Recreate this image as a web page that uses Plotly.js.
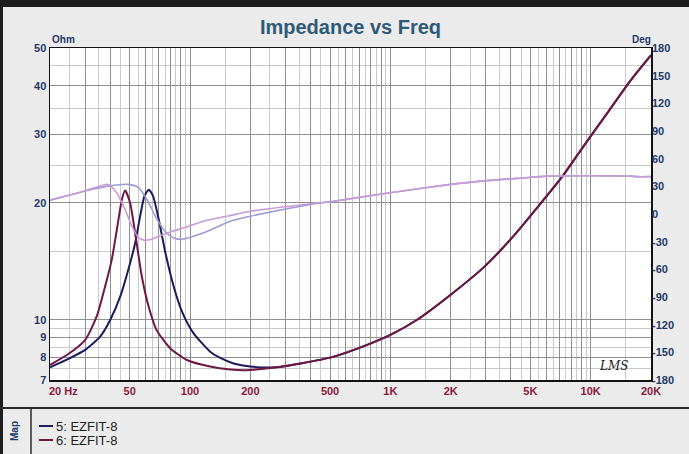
<!DOCTYPE html>
<html>
<head>
<meta charset="utf-8">
<script src="https://cdn.plot.ly/plotly-3.0.1.min.js"></script>
<style>
html,body{margin:0;padding:0;background:#ebebeb;overflow:hidden;}
#chart{width:689px;height:454px;}
</style>
</head>
<body>
<div id="chart"></div>
<script>
// ---- Data ----
const imp5Freq = [20, 25, 30, 35.6, 40, 44.9, 49.3, 53.3, 56.4, 59.2, 62.2, 65.4, 69.8, 75.3, 82.8, 91.2, 104, 126, 140, 165, 200, 270, 356, 522, 766, 1000, 1360, 2000, 2950, 4200, 5400, 7240, 9280, 12100, 15800, 20000];
const imp5 = [7.55, 7.96, 8.37, 9.05, 10.0, 11.5, 13.5, 15.8, 18.5, 20.8, 21.6, 20.8, 18.1, 14.9, 12.2, 10.5, 9.24, 8.28, 8.0, 7.72, 7.58, 7.55, 7.72, 8.04, 8.62, 9.14, 10.0, 11.6, 13.7, 16.6, 19.4, 23.4, 28.1, 34.0, 41.2, 47.9];

const imp6Freq = [20, 25, 30, 34.2, 37.7, 40.7, 43.4, 45.7, 47.4, 50.2, 53.8, 57.5, 62.2, 68, 79.6, 96.5, 126, 159, 190, 270, 356, 522, 766, 1000, 1360, 2000, 2950, 4200, 5400, 7240, 9280, 12100, 15800, 20000];
const imp6 = [7.65, 8.2, 8.88, 10.2, 12.2, 14.3, 17.4, 20.4, 21.5, 20.0, 16.1, 12.9, 10.8, 9.42, 8.45, 7.88, 7.58, 7.45, 7.42, 7.55, 7.72, 8.04, 8.62, 9.14, 10.0, 11.6, 13.7, 16.6, 19.4, 23.4, 28.1, 34.0, 41.2, 47.9];

const phase5Freq = [20, 27.7, 33.5, 39, 49.3, 55.4, 62.2, 67.1, 73.8, 81.5, 91, 115, 159, 200, 400, 522, 1000, 2000, 2830, 4300, 6070, 10000, 15800, 17000, 20000];
const phase5 = [15, 23.1, 27.4, 30.2, 32.1, 28.5, 12.2, -2.4, -16.9, -25.2, -27.5, -21, -7.8, -2.4, 10.3, 13.9, 23.1, 32.1, 35.7, 38.6, 41.1, 41.5, 41.1, 40.5, 40.5];

const phase6Freq = [20, 27.7, 33.5, 39, 43, 47.4, 51.3, 55.4, 59, 65, 73.6, 81.5, 93, 117, 159, 200, 400, 522, 1000, 2000, 2830, 4300, 6070, 10000, 15800, 17000, 20000];
const phase6 = [15, 23.1, 28.5, 32.1, 23.1, 4.9, -13.3, -25.9, -28.3, -27, -22.3, -18.7, -15, -7.8, -1.6, 3.0, 11.1, 13.9, 23.1, 32.1, 35.7, 38.6, 41.1, 41.5, 41.1, 40.5, 40.5];

const seriesNames = ['5: EZFIT-8', '6: EZFIT-8'];
const xTickVals = [20, 50, 100, 200, 500, 1000, 2000, 5000, 10000, 20000];
const xTickText = ['', '50', '100', '200', '500', '1K', '2K', '5K', '10K', '20K'];
const yTickVals = [7, 8, 9, 10, 20, 30, 40, 50];
const y2TickVals = [-180, -150, -120, -90, -60, -30, 0, 30, 60, 90, 120, 150, 180];

// ---- Styling ----
const W = 689, H = 454;
const M = {l: 50, r: 38, t: 48, b: 74};
const PW = W - M.l - M.r, PH = H - M.t - M.b;
const px = x => (x - M.l) / PW;
const py = y => (H - M.b - y) / PH;

const cNavy = '#1c1c5c', cMaroon = '#6e1846';
const cPh5 = '#9c9cd6', cPh6 = '#c79bd6';
const labelNavy = '#1f3a68', labelRed = '#8a1a3c';

const xMajor = [], xMinor = [];
[10, 100, 1000, 10000].forEach(d => {
  for (let k = 1; k <= 9; k++) {
    const v = k * d; if (v >= 20 && v <= 20000) xMajor.push(v);
    const h = (k + 0.5) * d; if (h > 20 && h < 20000) xMinor.push(h);
  }
});
xMajor.push(20000);
const xMajorText = xMajor.map(v => { const i = xTickVals.indexOf(v); return i >= 0 ? xTickText[i] : ''; });
const yMajor = [7, 8, 9, 10, 20, 30, 40, 50];
const yMinor = [7.5, 8.5, 9.5, 15, 25, 35, 45];

const sm = 0.6;
const traces = [
  {x: phase5Freq, y: phase5, yaxis: 'y2', mode: 'lines', line: {color: cPh5, width: 1.6, shape: 'spline', smoothing: sm}, showlegend: false, hoverinfo: 'skip'},
  {x: phase6Freq, y: phase6, yaxis: 'y2', mode: 'lines', line: {color: cPh6, width: 1.6, shape: 'spline', smoothing: sm}, showlegend: false, hoverinfo: 'skip'},
  {x: imp5Freq, y: imp5, name: seriesNames[0], mode: 'lines', line: {color: cNavy, width: 2, shape: 'spline', smoothing: sm}, showlegend: false},
  {x: imp6Freq, y: imp6, name: seriesNames[1], mode: 'lines', line: {color: cMaroon, width: 2, shape: 'spline', smoothing: sm}, showlegend: false}
];

const tickFont = {family: 'Arial, "Liberation Sans", sans-serif', size: 11, color: labelNavy, weight: 'bold'};
const legFont = {family: '"Liberation Sans Narrow", "Arial Narrow", Arial, sans-serif', size: 13, color: '#222'};

const layout = {
  width: W, height: H,
  margin: M,
  paper_bgcolor: '#ebebeb',
  plot_bgcolor: '#ffffff',
  showlegend: false,
  title: {text: '<b>Impedance vs Freq</b>', font: {family: 'Arial, "Liberation Sans", sans-serif', size: 20, color: '#2e5a78'}, x: 0.5, xref: 'paper', xanchor: 'center', y: 1 - 27 / H, yref: 'container', yanchor: 'middle'},
  xaxis: {
    type: 'log', range: [Math.log10(20), Math.log10(20000)],
    tickmode: 'array', tickvals: xMajor, ticktext: xMajorText,
    ticks: '', showgrid: true, gridcolor: '#8f8f8f', gridwidth: 1,
    minor: {tickmode: 'array', tickvals: xMinor, showgrid: true, gridcolor: '#c9c9c9', gridwidth: 1, ticks: ''},
    showline: true, linecolor: '#111', linewidth: 1.5, mirror: true,
    tickfont: Object.assign({}, tickFont, {color: labelRed}),
    zeroline: false, fixedrange: true
  },
  yaxis: {
    type: 'log', range: [Math.log10(7), Math.log10(50)],
    tickmode: 'array', tickvals: [...yMajor], ticktext: yMajor.map(v => yTickVals.includes(v) ? String(v) : ''),
    ticks: '', showgrid: true, gridcolor: '#8f8f8f', gridwidth: 1,
    minor: {tickmode: 'array', tickvals: yMinor, showgrid: true, gridcolor: '#c9c9c9', gridwidth: 1, ticks: ''},
    showline: true, linecolor: '#111', linewidth: 1.5, mirror: true,
    tickfont: tickFont, zeroline: false, fixedrange: true
  },
  yaxis2: {
    overlaying: 'y', side: 'right', range: [-180, 180],
    tickmode: 'array', tickvals: y2TickVals, ticktext: y2TickVals.map(String),
    ticks: '', showgrid: false, zeroline: false, showline: false,
    tickfont: tickFont, fixedrange: true
  },
  shapes: [
    {type: 'rect', xref: 'paper', yref: 'paper', x0: px(0), x1: px(W), y0: py(0), y1: py(7), fillcolor: '#1d1d1d', line: {width: 0}, layer: 'below'},
    {type: 'rect', xref: 'paper', yref: 'paper', x0: px(0), x1: px(3), y0: py(0), y1: py(H), fillcolor: '#1d1d1d', line: {width: 0}, layer: 'below'},
    {type: 'line', xref: 'paper', yref: 'paper', x0: px(0), x1: px(W), y0: py(408), y1: py(408), line: {color: '#2a2a2a', width: 2}},
    {type: 'line', xref: 'paper', yref: 'paper', x0: px(31), x1: px(31), y0: py(409), y1: py(H), line: {color: '#2a2a2a', width: 1.5}},
    {type: 'line', xref: 'paper', yref: 'paper', x0: px(39), x1: px(53), y0: py(426), y1: py(426), line: {color: cNavy, width: 2}},
    {type: 'line', xref: 'paper', yref: 'paper', x0: px(39), x1: px(53), y0: py(440), y1: py(440), line: {color: cMaroon, width: 2}}
  ],
  annotations: [
    {text: '<b>Ohm</b>', xref: 'paper', yref: 'paper', x: px(63), y: py(40), xanchor: 'center', yanchor: 'middle', showarrow: false, font: {family: 'Arial, sans-serif', size: 10, color: labelNavy}},
    {text: '<b>Deg</b>', xref: 'paper', yref: 'paper', x: px(641), y: py(40), xanchor: 'center', yanchor: 'middle', showarrow: false, font: {family: 'Arial, sans-serif', size: 10, color: labelNavy}},
    {text: '<b>20 Hz</b>', xref: 'paper', yref: 'paper', x: px(47), y: py(391), xanchor: 'left', yanchor: 'middle', showarrow: false, font: {family: 'Arial, sans-serif', size: 11, color: labelRed}},
    {text: '<i>LMS</i>', xref: 'paper', yref: 'paper', x: px(613), y: py(366), xanchor: 'center', yanchor: 'middle', showarrow: false, font: {family: '"DejaVu Serif", serif', size: 12, color: '#222'}},
    {text: '<b>Map</b>', xref: 'paper', yref: 'paper', x: px(15), y: py(431), xanchor: 'center', yanchor: 'middle', textangle: -90, showarrow: false, font: {family: 'Arial, sans-serif', size: 10, color: labelNavy}},
    {text: seriesNames[0], xref: 'paper', yref: 'paper', x: px(54), y: py(426), xanchor: 'left', yanchor: 'middle', showarrow: false, font: legFont},
    {text: seriesNames[1], xref: 'paper', yref: 'paper', x: px(54), y: py(440), xanchor: 'left', yanchor: 'middle', showarrow: false, font: legFont}
  ]
};

Plotly.newPlot('chart', traces, layout, {staticPlot: true, displayModeBar: false});
</script>
</body>
</html>
